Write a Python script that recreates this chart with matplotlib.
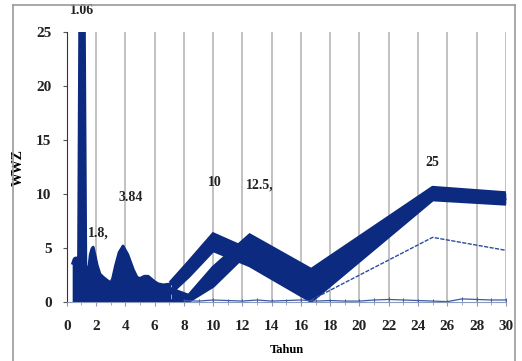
import numpy as np
import matplotlib.pyplot as plt
from matplotlib.lines import Line2D

# WWZ spectra for Tahun (period, years)
# short-period part: envelope of the overlapping curves
per_short = [0.4, 0.5, 0.6, 0.7, 0.8, 0.88, 1.06, 1.2, 1.3, 1.4, 1.5, 1.6, 1.7, 1.8,
             1.92, 2.08, 2.27, 2.5, 2.78, 3.0, 3.13, 3.33, 3.57, 3.84, 4.17, 4.55,
             4.8, 5.0, 5.3, 5.56, 6.0, 6.25, 6.6, 7.14]
wwz_short = [3.6, 4.0, 4.1, 3.9, 4.3, 26.0, 40.0, 26.0, 3.4, 2.8, 3.2, 4.4, 4.9, 5.1,
             4.4, 3.4, 2.6, 2.3, 2.0, 1.8, 2.2, 3.4, 4.6, 5.2, 4.4, 3.0,
             2.3, 2.2, 2.4, 2.4, 1.9, 1.7, 1.6, 1.7]

# long-period part: two bands of curves (peak near 10 and near 12.5)
per_long = [7.14, 8.33, 10.0, 12.5, 16.7, 25.0, 30.0]
band_a_hi = [1.9, 3.7, 6.3, 4.8, 2.2, 10.2, 9.7]
band_a_lo = [0.9, 2.4, 4.8, 3.4, 0.1, 9.5, 9.1]
band_b_hi = [1.2, 0.6, 3.2, 6.2, 3.0, 10.6, 10.1]
band_b_lo = [0.1, 0.1, 1.5, 4.8, 0.4, 10.0, 9.5]

# single weak curves
per_weak = [16.7, 25.0, 30.0]
wwz_weak = [0.2, 6.0, 4.8]
per_base = [8, 9, 10, 11, 12, 13, 14, 15, 16, 17, 18, 19, 20, 21, 22, 23, 24,
            25, 26, 27, 28, 29, 30]
wwz_base = [0.15, 0.1, 0.2, 0.15, 0.1, 0.2, 0.1, 0.15, 0.2, 0.1, 0.15, 0.1, 0.1,
            0.2, 0.25, 0.2, 0.15, 0.1, 0.05, 0.3, 0.25, 0.2, 0.2]

blue = '#0b2a80'

fig = plt.figure(figsize=(5.22, 3.61), dpi=100)
ax = fig.add_axes([0.128, 0.163, 0.841, 0.748])

ax.fill_between(per_short, 0, wwz_short, color=blue, lw=0)
ax.plot(per_short, wwz_short, color=blue, lw=2.0)
ax.fill_between(per_long, band_a_lo, band_a_hi, color=blue, lw=0)
ax.fill_between(per_long, band_b_lo, band_b_hi, color=blue, lw=0)
for s in (band_a_hi, band_a_lo, band_b_hi, band_b_lo):
    ax.plot(per_long, s, color=blue, lw=2.6, solid_joinstyle='miter')
ax.plot(per_weak, wwz_weak, color='#2c4c9c', lw=1.0, ls=(0, (3, 1)))
ax.plot(per_base, wwz_base, color='#3b5aa8', lw=0.9, marker='|', ms=3, mew=0.7)

ax.set_xlim(0, 30)
ax.set_ylim(0, 25)
ax.set_xticks(range(0, 31, 2))
ax.set_xticks(range(0, 31, 1), minor=True)
ax.set_yticks(range(0, 26, 5))
ax.grid(axis='x', color='#b8b8b8', lw=1.2)
ax.set_axisbelow(True)
for sp in ('top', 'right'):
    ax.spines[sp].set_visible(False)
ax.spines['left'].set_color('#333333')
ax.spines['bottom'].set_color('#8a9ab8')
ax.tick_params(axis='x', which='major', length=3, color='#8a9ab8', pad=10)
ax.tick_params(axis='x', which='minor', length=2, color='#8a9ab8')
ax.tick_params(axis='y', length=3, color='#555555', pad=8)

for lab in ax.get_xticklabels() + ax.get_yticklabels():
    lab.set_fontfamily('Liberation Serif')
    lab.set_fontweight('bold')
    lab.set_fontsize(11)
    lab.set_color('#222222')

ax.set_xlabel('Tahun', family='Liberation Serif', weight='bold', size=9, labelpad=8)
ax.set_ylabel('WWZ', family='Liberation Serif', weight='bold', size=10, labelpad=8)

# period labels of the peaks
peaks = [(1.06, 25.0, '1.06'), (1.8, 5.1, '1.8,'), (3.84, 5.2, '3.84'),
         (10.0, 6.3, '10'), (12.5, 6.2, '12.5,'), (25.0, 10.6, '25')]
offs = {'1.06': (0.0, 1.4), '1.8,': (0.35, 0.7), '3.84': (0.5, 3.9),
        '10': (0.1, 4.2), '12.5,': (0.7, 4.0), '25': (0.0, 1.7)}
for x, y, t in peaks:
    dx, dy = offs[t]
    ax.text(x + dx, y + dy, t, ha='center', va='bottom', clip_on=False,
            family='Liberation Serif', weight='bold', size=10, color='#222222')

# frame around the figure
for xs, ys in (([0.024, 0.024], [0.0, 0.985]), ([0.024, 0.987], [0.985, 0.985]),
               ([0.987, 0.987], [0.0, 0.985])):
    fig.add_artist(Line2D(xs, ys, color='#9a9a9a', lw=1.2, transform=fig.transFigure))

fig.savefig('out.png', dpi=100)
